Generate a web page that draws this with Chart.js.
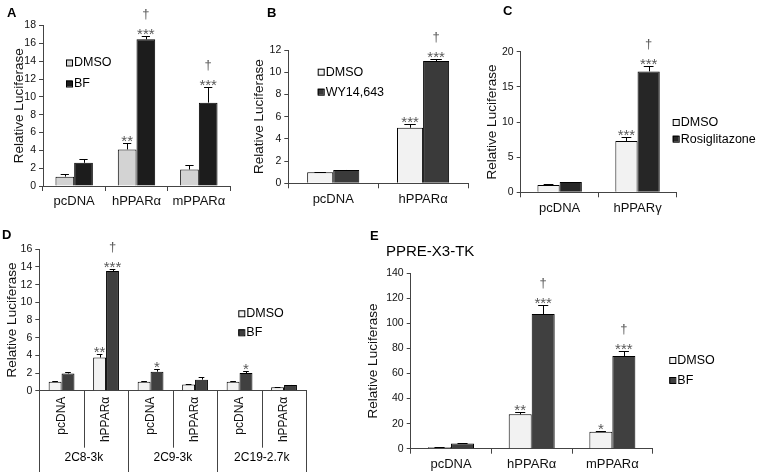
<!DOCTYPE html>
<html>
<head>
<meta charset="utf-8">
<script src="https://cdn.jsdelivr.net/npm/chart.js@4/dist/chart.umd.min.js"></script>
<style>
  html, body { margin: 0; padding: 0; background: #fff; }
  #wrap { position: relative; width: 761px; height: 472px; overflow: hidden; font-family: 'Liberation Sans', Arial, sans-serif; }
  canvas { position: absolute; }
  .lbl { position: absolute; font-weight: bold; font-size: 13px; line-height: 13px; color: #000; }
  .ttl { position: absolute; font-size: 15px; line-height: 15px; color: #000; }
</style>
</head>
<body>
<div id="wrap">
  <canvas id="cA" width="240" height="220" style="left:0;top:0"></canvas>
  <canvas id="cB" width="240" height="220" style="left:240px;top:0"></canvas>
  <canvas id="cC" width="281" height="220" style="left:480px;top:0"></canvas>
  <canvas id="cD" width="370" height="252" style="left:0;top:220px"></canvas>
  <canvas id="cE" width="401" height="252" style="left:360px;top:220px"></canvas>
  <div class="lbl" style="left:7px;top:6px">A</div>
  <div class="lbl" style="left:267px;top:6px">B</div>
  <div class="lbl" style="left:503px;top:4px">C</div>
  <div class="lbl" style="left:2px;top:228px">D</div>
  <div class="lbl" style="left:370px;top:229px">E</div>
  <div class="ttl" style="left:386px;top:243px">PPRE-X3-TK</div>
</div>
<script>
// ---------- datos ----------
// A
const catsA = ['pcDNA', 'hPPARα', 'mPPARα'];
const dmsoA = [1.05, 4.1, 1.85];
const dmsoErrA = [0.25, 0.7, 0.5];
const bfA = [2.6, 16.45, 9.35];
const bfErrA = [0.4, 0.35, 1.75];
const dmsoStarsA = ['', '**', ''];
const bfStarsA = ['', '***', '***'];
const bfDaggerA = ['', '†', '†'];
const yMaxA = 18, yStepA = 2;

// B
const catsB = ['pcDNA', 'hPPARα'];
const dmsoB = [1.0, 5.0];
const dmsoErrB = [0.04, 0.35];
const wyB = [1.2, 11.0];
const wyErrB = [0.04, 0.15];
const dmsoStarsB = ['', '***'];
const wyStarsB = ['', '***'];
const wyDaggerB = ['', '†'];
const yMaxB = 12, yStepB = 2;

// C
const catsC = ['pcDNA', 'hPPARγ'];
const dmsoC = [1.04, 7.3];
const dmsoErrC = [0.08, 0.5];
const rosiC = [1.45, 17.2];
const rosiErrC = [0.05, 0.7];
const dmsoStarsC = ['', '***'];
const rosiStarsC = ['', '***'];
const rosiDaggerC = ['', '†'];
const yMaxC = 20, yStepC = 5;

// D
const catsD = ['pcDNA', 'hPPARα', 'pcDNA', 'hPPARα', 'pcDNA', 'hPPARα'];
const groupsD = ['2C8-3k', '2C9-3k', '2C19-2.7k'];
const dmsoD = [1.0, 3.75, 1.0, 0.7, 1.0, 0.4];
const dmsoErrD = [0.15, 0.45, 0.12, 0.04, 0.12, 0.03];
const bfD = [1.95, 13.55, 2.15, 1.25, 2.0, 0.65];
const bfErrD = [0.2, 0.25, 0.3, 0.35, 0.22, 0.04];
const dmsoStarsD = ['', '**', '', '', '', ''];
const bfStarsD = ['', '***', '*', '', '*', ''];
const bfDaggerD = ['', '†', '', '', '', ''];
const yMaxD = 16, yStepD = 2;

// E
const catsE = ['pcDNA', 'hPPARα', 'mPPARα'];
const dmsoE = [1.1, 27.4, 13.5];
const dmsoErrE = [0.3, 2.2, 1.0];
const bfE = [4.2, 107.5, 74];
const bfErrE = [0.3, 7.2, 4.3];
const dmsoStarsE = ['', '**', '*'];
const bfStarsE = ['', '***', '***'];
const bfDaggerE = ['', '†', '†'];
const yMaxE = 140, yStepE = 20;

// ---------- estilo ----------
const FONT = "'Liberation Sans', Arial, sans-serif";
const AXIS = '#444';
const STAR = '#585858';

// barras de error + asteriscos / dagas
const errorBars = {
  id: 'errorBars',
  afterDatasetsDraw(chart) {
    const { ctx } = chart;
    const y = chart.scales.y;
    chart.data.datasets.forEach((ds, i) => {
      const meta = chart.getDatasetMeta(i);
      meta.data.forEach((bar, j) => {
        const err = ds.errors ? ds.errors[j] : 0;
        const top = y.getPixelForValue(ds.data[j] + (err || 0));
        ctx.save();
        if (err) {
          const cap = bar.width * 0.22;
          ctx.strokeStyle = '#000';
          ctx.lineWidth = 1;
          ctx.beginPath();
          ctx.moveTo(Math.round(bar.x) + 0.5, bar.y);
          ctx.lineTo(Math.round(bar.x) + 0.5, Math.round(top) + 0.5);
          ctx.moveTo(bar.x - cap, Math.round(top) + 0.5);
          ctx.lineTo(bar.x + cap, Math.round(top) + 0.5);
          ctx.stroke();
        }
        ctx.fillStyle = STAR;
        ctx.textAlign = 'center';
        ctx.textBaseline = 'alphabetic';
        const s = ds.stars ? ds.stars[j] : '';
        if (s) {
          ctx.font = `15px ${FONT}`;
          ctx.fillText(s, bar.x, top + 3);
        }
        const d = ds.daggers ? ds.daggers[j] : '';
        if (d) {
          ctx.font = `13px ${FONT}`;
          ctx.fillText(d, bar.x, top - 18);
        }
        ctx.restore();
      });
    });
  },
};

// leyenda con cuadritos, posición libre
const boxLegend = {
  id: 'boxLegend',
  afterDraw(chart, args, opts) {
    if (!opts || opts.x == null) return;
    const { ctx } = chart;
    ctx.save();
    ctx.font = `12.5px ${FONT}`;
    ctx.textBaseline = 'middle';
    ctx.textAlign = 'left';
    chart.data.datasets.forEach((ds, i) => {
      const yy = opts.y[i];
      ctx.fillStyle = ds.backgroundColor;
      ctx.fillRect(opts.x, yy - 3, 6, 6);
      ctx.strokeStyle = '#000';
      ctx.lineWidth = 1;
      ctx.strokeRect(opts.x + 0.5, yy - 2.5, 6, 6);
      ctx.fillStyle = '#000';
      ctx.fillText(ds.label, opts.x + 8, yy + 0.5);
    });
    ctx.restore();
  },
};

// tabla bajo el eje x (panel D)
const groupTable = {
  id: 'groupTable',
  afterDraw(chart, args, opts) {
    if (!opts || !opts.groups) return;
    const { ctx } = chart;
    const x = chart.scales.x;
    const n = chart.data.labels.length;
    const w = (x.right - x.left) / n;
    const y0 = chart.chartArea.bottom;
    ctx.save();
    ctx.strokeStyle = AXIS;
    ctx.lineWidth = 1;
    for (let i = 0; i <= n; i++) {
      const xx = Math.round(x.left + i * w) + 0.5;
      ctx.beginPath();
      ctx.moveTo(xx, y0);
      ctx.lineTo(xx, i % 2 === 0 ? chart.height : opts.subBottom);
      ctx.stroke();
    }
    ctx.fillStyle = '#000';
    ctx.font = `12px ${FONT}`;
    ctx.textAlign = 'center';
    ctx.textBaseline = 'middle';
    opts.groups.forEach((g, k) => {
      ctx.fillText(g, x.left + (2 * k + 1) * w, opts.labelY);
    });
    ctx.restore();
  },
};

function buildPanel(id, p) {
  const el = document.getElementById(id);
  const datasets = p.series.map((s) => ({
    label: s.name,
    data: s.data,
    errors: s.err,
    stars: s.stars,
    daggers: s.dag,
    backgroundColor: s.color,
    borderColor: '#000',
    borderWidth: 1,
    barPercentage: 1,
    categoryPercentage: p.catPct,
  }));
  return new Chart(el, {
    type: 'bar',
    data: { labels: p.labels, datasets },
    plugins: [errorBars, boxLegend, groupTable],
    options: {
      responsive: false,
      animation: false,
      layout: { padding: { left: 0, top: p.plot.top, right: p.w - p.plot.right, bottom: 0 } },
      plugins: {
        legend: { display: false },
        tooltip: { enabled: false },
        boxLegend: p.legend,
        groupTable: p.table || {},
      },
      scales: {
        x: {
          grid: {
            offset: true,
            drawOnChartArea: false,
            drawTicks: !p.table,
            tickLength: 5,
            color: AXIS,
          },
          border: { color: AXIS },
          ticks: {
            color: '#111',
            font: { family: FONT, size: p.xFont || 13 },
            padding: p.table ? 6 : 3,
            autoSkip: false,
            maxRotation: p.rot || 0,
            minRotation: p.rot || 0,
          },
          afterFit(s) { s.height = p.h - p.plot.bottom; },
        },
        y: {
          min: 0,
          max: p.yMax,
          ticks: { stepSize: p.yStep, color: '#111', font: { family: FONT, size: 10.5 }, padding: 3 },
          grid: { drawOnChartArea: false, tickLength: 4, color: AXIS },
          border: { color: AXIS },
          title: {
            display: true,
            text: 'Relative Luciferase',
            color: '#111',
            font: { family: FONT, size: 13.5 },
            padding: { top: p.titlePad, bottom: 0 },
          },
          afterFit(s) { s.width = p.plot.left; },
        },
      },
    },
  });
}

buildPanel('cA', {
  w: 240, h: 220,
  plot: { left: 43, top: 25.5, right: 230, bottom: 186 },
  titlePad: 11, catPct: 0.6,
  labels: catsA, yMax: yMaxA, yStep: yStepA,
  legend: { x: 66, y: [62.5, 83.5] },
  series: [
    { name: 'DMSO', data: dmsoA, err: dmsoErrA, stars: dmsoStarsA, color: '#d3d3d3' },
    { name: 'BF', data: bfA, err: bfErrA, stars: bfStarsA, dag: bfDaggerA, color: '#1c1c1c' },
  ],
});

buildPanel('cB', {
  w: 240, h: 220,
  plot: { left: 48.3, top: 50, right: 228, bottom: 183.3 },
  titlePad: 11.5, catPct: 0.58,
  labels: catsB, yMax: yMaxB, yStep: yStepB,
  legend: { x: 77.7, y: [71.7, 91.7] },
  series: [
    { name: 'DMSO', data: dmsoB, err: dmsoErrB, stars: dmsoStarsB, color: '#f2f2f2' },
    { name: 'WY14,643', data: wyB, err: wyErrB, stars: wyStarsB, dag: wyDaggerB, color: '#3a3a3a' },
  ],
});

buildPanel('cC', {
  w: 281, h: 220,
  plot: { left: 40.7, top: 51.7, right: 196.5, bottom: 192.3 },
  titlePad: 4, catPct: 0.57,
  labels: catsC, yMax: yMaxC, yStep: yStepC,
  legend: { x: 192.7, y: [122, 138.7] },
  series: [
    { name: 'DMSO', data: dmsoC, err: dmsoErrC, stars: dmsoStarsC, color: '#f2f2f2' },
    { name: 'Rosiglitazone', data: rosiC, err: rosiErrC, stars: rosiStarsC, dag: rosiDaggerC, color: '#262626' },
  ],
});

buildPanel('cD', {
  w: 370, h: 252,
  plot: { left: 39.3, top: 29.3, right: 306.3, bottom: 170.7 },
  titlePad: 4.5, catPct: 0.58, rot: 90, xFont: 12,
  labels: catsD, yMax: yMaxD, yStep: yStepD,
  legend: { x: 238.3, y: [93.3, 112.3] },
  table: { groups: groupsD, subBottom: 227.7, labelY: 238 },
  series: [
    { name: 'DMSO', data: dmsoD, err: dmsoErrD, stars: dmsoStarsD, color: '#f2f2f2' },
    { name: 'BF', data: bfD, err: bfErrD, stars: bfStarsD, dag: bfDaggerD, color: '#404040' },
  ],
});

buildPanel('cE', {
  w: 401, h: 252,
  plot: { left: 50.7, top: 53.3, right: 292.7, bottom: 228.7 },
  titlePad: 5, catPct: 0.57,
  labels: catsE, yMax: yMaxE, yStep: yStepE,
  legend: { x: 309.3, y: [140, 160] },
  series: [
    { name: 'DMSO', data: dmsoE, err: dmsoErrE, stars: dmsoStarsE, color: '#f2f2f2' },
    { name: 'BF', data: bfE, err: bfErrE, stars: bfStarsE, dag: bfDaggerE, color: '#404040' },
  ],
});
</script>
</body>
</html>
